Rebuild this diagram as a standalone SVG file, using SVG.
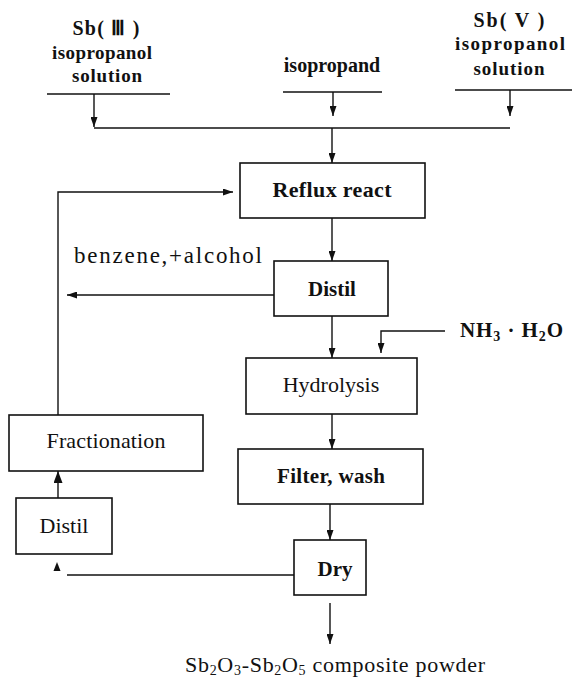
<svg xmlns="http://www.w3.org/2000/svg" width="572" height="685" viewBox="0 0 572 685">
<style>
.bg{fill:#fff}
.box{fill:#fff;stroke:#111;stroke-width:1.6}
.ln{fill:none;stroke:#111;stroke-width:1.4}
.t{font-family:"Liberation Serif","Times New Roman",serif;fill:#111;text-anchor:middle}
.b{font-weight:bold}
.s19{font-size:19px}
.s21{font-size:21px}
.s22{font-size:22px}
.s20{font-size:20px}
</style>
<defs>
<marker id="ah" viewBox="0 0 10 7" refX="10" refY="3.5" markerWidth="10" markerHeight="7" orient="auto" markerUnits="userSpaceOnUse">
<path d="M0,0 L10,3.5 L0,7 z" fill="#111"/>
</marker>
<marker id="ahb" viewBox="0 0 12 9" refX="12" refY="4.5" markerWidth="12" markerHeight="9" orient="auto" markerUnits="userSpaceOnUse">
<path d="M0,0 L12,4.5 L0,9 z" fill="#111"/>
</marker>
</defs>
<rect class="bg" x="0" y="0" width="572" height="685"/>

<g id="sb3">
<text class="t b" font-size="20" x="106" y="35" textLength="67">Sb( Ⅲ )</text>
<text class="t b s19" x="102" y="59" textLength="100">isopropanol</text>
<text class="t b s19" x="107" y="82" textLength="70">solution</text>
<path class="ln" d="M47,94 H170"/>
</g>
<g id="isopropand">
<text class="t b s20" x="332" y="72">isopropand</text>
<path class="ln" d="M283,92 H382"/>
</g>
<g id="sb5">
<text class="t b" font-size="20" x="509" y="27" textLength="71">Sb( V )</text>
<text class="t b s19" x="510" y="50" textLength="110">isopropanol</text>
<text class="t b s19" x="509" y="75" textLength="71">solution</text>
<path class="ln" d="M455,90 H572"/>
</g>

<g id="reflux">
<rect class="box" x="240" y="163" width="185" height="55"/>
<text class="t b s22" x="332" y="197" textLength="119">Reflux react</text>
</g>
<g id="distil1">
<rect class="box" x="274" y="261" width="114" height="55"/>
<text class="t b s21" x="332" y="296">Distil</text>
</g>
<g id="hydrolysis">
<rect class="box" x="246" y="358" width="171" height="56"/>
<text class="t s22" x="331" y="392">Hydrolysis</text>
</g>
<g id="filter">
<rect class="box" x="238" y="449" width="185" height="55"/>
<text class="t b s21" x="331" y="483" textLength="108">Filter, wash</text>
</g>
<g id="dry">
<rect class="box" x="294" y="540" width="72" height="55"/>
<text class="t b s21" x="335" y="576">Dry</text>
</g>
<g id="fractionation">
<rect class="box" x="9" y="415" width="194" height="56"/>
<text class="t s22" x="106" y="448" textLength="119">Fractionation</text>
</g>
<g id="distil2">
<rect class="box" x="16" y="498" width="96" height="56"/>
<text class="t s22" x="64" y="533">Distil</text>
</g>
<g id="labels">
<text class="t" font-size="23" x="74" y="263" style="text-anchor:start" textLength="188">benzene,+alcohol</text>
<text class="t b s21" x="460" y="337" style="text-anchor:start" textLength="103">NH<tspan font-size="14" dy="4">3</tspan><tspan dy="-4"> · H</tspan><tspan font-size="14" dy="4">2</tspan><tspan dy="-4">O</tspan></text>
<text class="t s22" x="185" y="672" style="text-anchor:start" textLength="300">Sb<tspan font-size="14" dy="3">2</tspan><tspan dy="-3">O</tspan><tspan font-size="14" dy="3">3</tspan><tspan dy="-3">-Sb</tspan><tspan font-size="14" dy="3">2</tspan><tspan dy="-3">O</tspan><tspan font-size="14" dy="3">5</tspan><tspan dy="-3">  composite  powder</tspan></text>
</g>

<g id="connectors">
<path class="ln" d="M94,94 V127" marker-end="url(#ah)"/>
<path class="ln" d="M94,128 H510"/>
<path class="ln" d="M333,92 V116" marker-end="url(#ah)"/>
<path class="ln" d="M510,90 V116" marker-end="url(#ah)"/>
<path class="ln" d="M332,128 V163" marker-end="url(#ah)"/>
<path class="ln" d="M332,218 V261" marker-end="url(#ah)"/>
<path class="ln" d="M274,295 H67" marker-end="url(#ah)"/>
<path class="ln" d="M332,316 V358" marker-end="url(#ah)"/>
<path class="ln" d="M445,331 H381 V353" marker-end="url(#ah)"/>
<path class="ln" d="M332,414 V449" marker-end="url(#ah)"/>
<path class="ln" d="M330,504 V540" marker-end="url(#ah)"/>
<path class="ln" d="M330,603 V644" marker-end="url(#ah)"/>
<path class="ln" d="M294,575 H67"/>
<path d="M53.5,571 L57,562 L60.5,571 z" fill="#111"/>
<path class="ln" d="M58,498 V471" stroke-width="2" marker-end="url(#ahb)"/>
<path class="ln" d="M58,415 V192 H233" marker-end="url(#ah)"/>
</g>
</svg>
